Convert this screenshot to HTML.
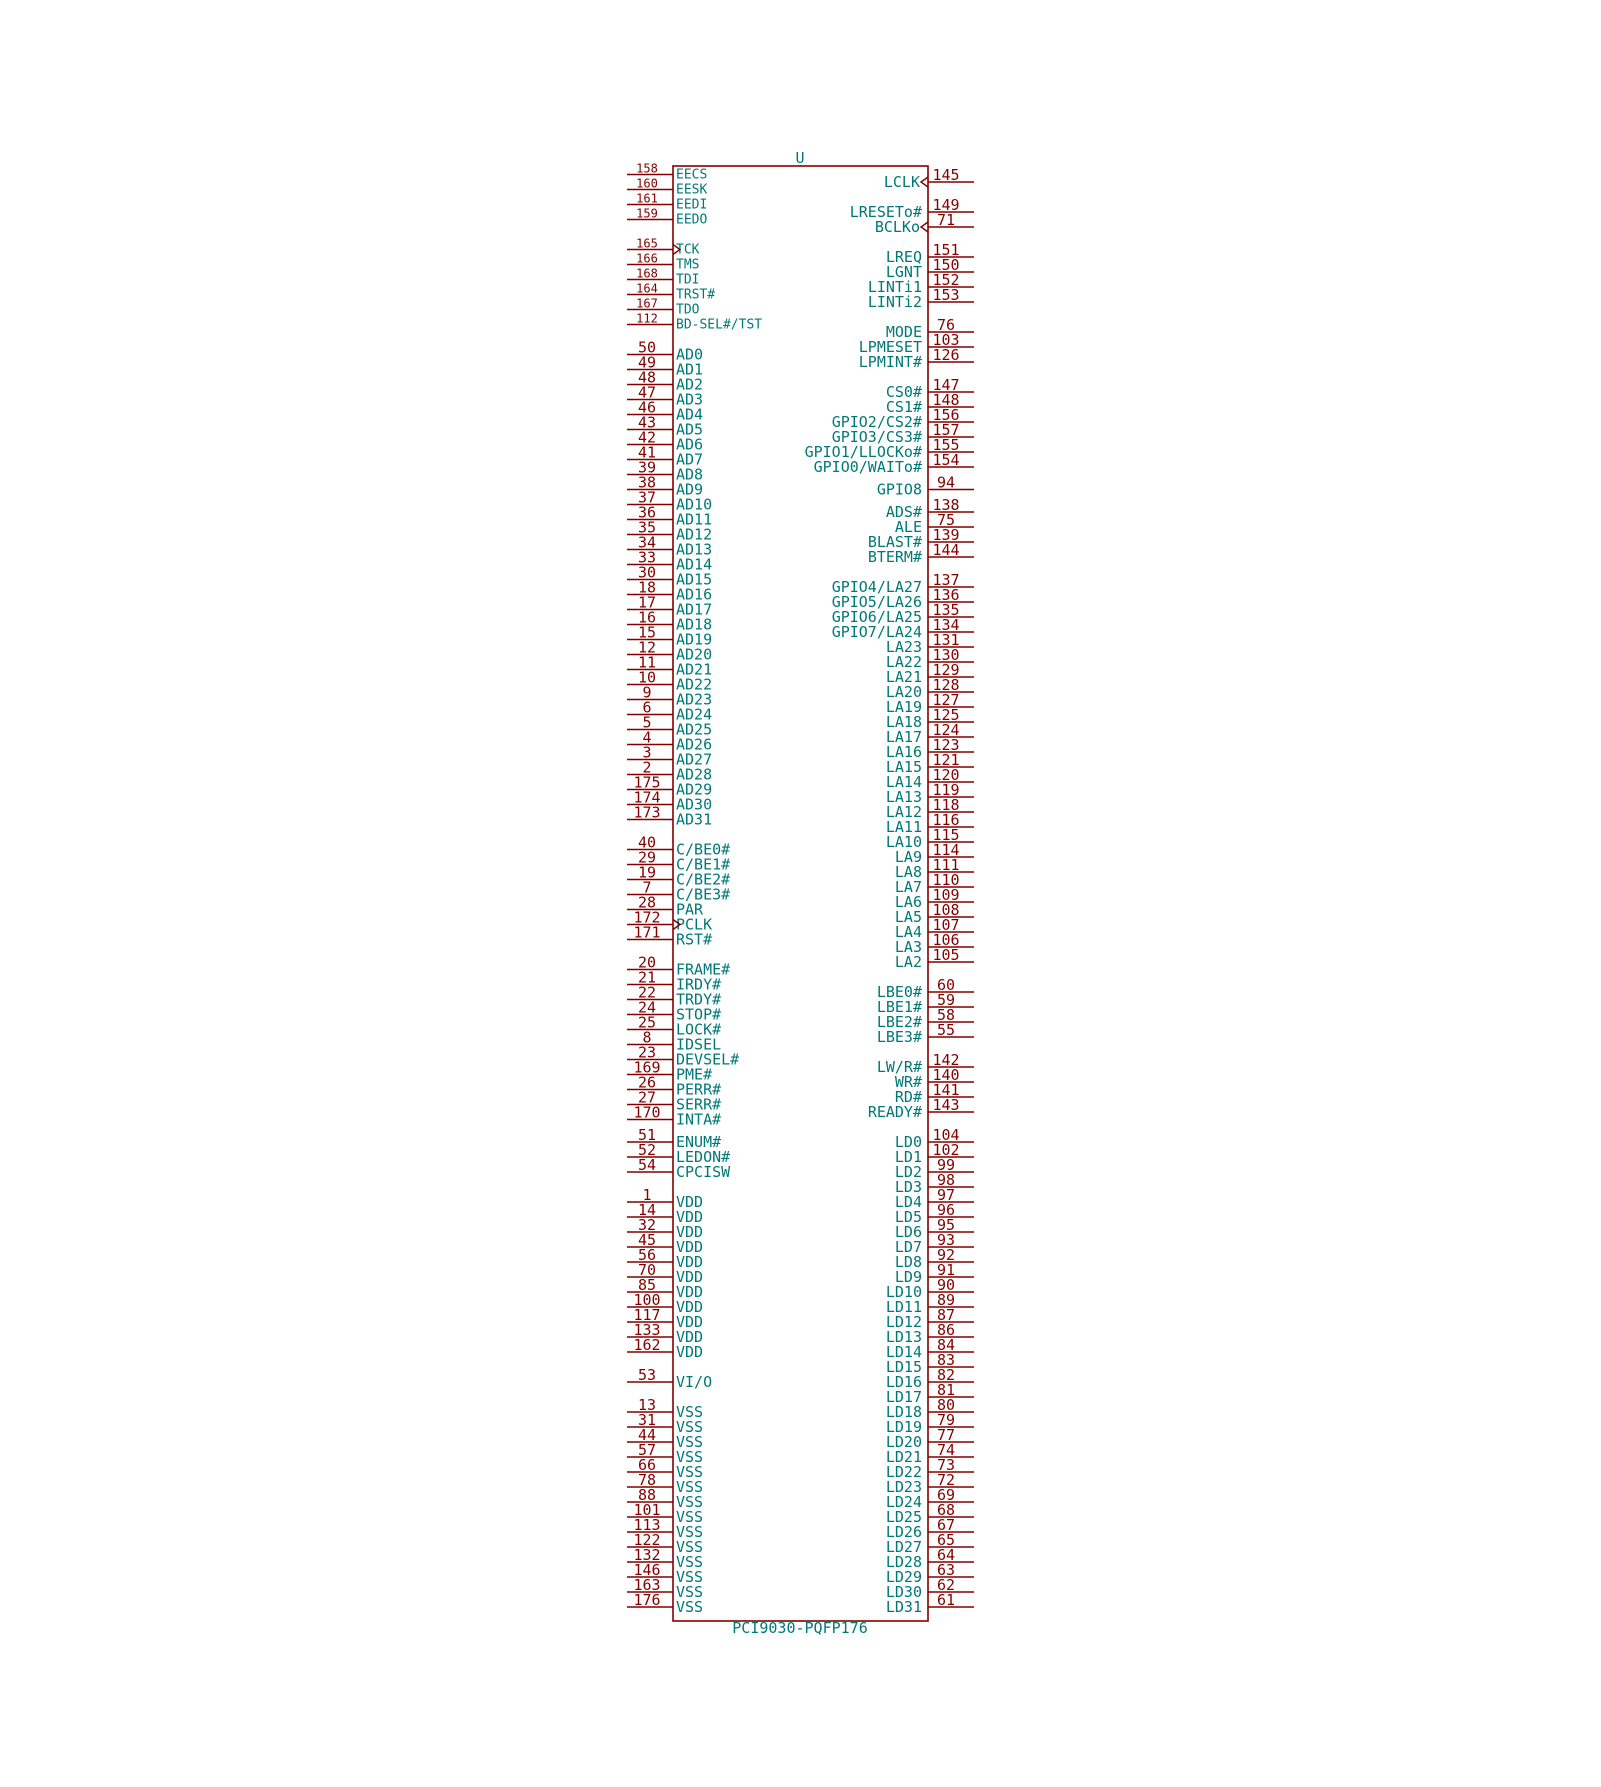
<!DOCTYPE html>
<html><head><meta charset="utf-8">
<style>
html,body{margin:0;padding:0;background:#fff;}
svg{display:block;}
text{font-family:"DejaVu Sans Mono","Liberation Mono",monospace;}
</style></head>
<body>
<svg id="sch" width="1601" height="1787" viewBox="0 0 1601 1787" xmlns="http://www.w3.org/2000/svg">
<rect x="673" y="166" width="255" height="1455" fill="none" stroke="#840000" stroke-width="1.6"/>
<text x="800" y="163" font-size="15" fill="#007878" text-anchor="middle">U</text>
<text x="800" y="1633" font-size="15" fill="#007878" text-anchor="middle">PCI9030-PQFP176</text>
</svg>
<script>
const leftNums=["158","160","161","159","165","166","168","164","167","112","50","49","48","47","46","43","42","41","39","38","37","36","35","34","33","30","18","17","16","15","12","11","10","9","6","5","4","3","2","175","174","173","40","29","19","7","28","172","171","20","21","22","24","25","8","23","169","26","27","170","51","52","54","1","14","32","45","56","70","85","100","117","133","162","53","13","31","44","57","66","78","88","101","113","122","132","146","163","176"];
const leftNames=["EECS","EESK","EEDI","EEDO","TCK","TMS","TDI","TRST#","TDO","BD-SEL#/TST"];
for(let i=0;i<32;i++)leftNames.push("AD"+i);
leftNames.push("C/BE0#","C/BE1#","C/BE2#","C/BE3#","PAR","PCLK","RST#","FRAME#","IRDY#","TRDY#","STOP#","LOCK#","IDSEL","DEVSEL#","PME#","PERR#","SERR#","INTA#","ENUM#","LEDON#","CPCISW");
for(let i=0;i<11;i++)leftNames.push("VDD");
leftNames.push("VI/O");
for(let i=0;i<14;i++)leftNames.push("VSS");
const leftRows=[0,1,2,3,5,6,7,8,9,10];
for(let i=0;i<32;i++)leftRows.push(12+i);
leftRows.push(45,46,47,48,49,50,51,53,54,55,56,57,58,59,60,61,62,63,64.5,65.5,66.5);
for(let i=0;i<11;i++)leftRows.push(68.5+i);
leftRows.push(80.5);
for(let i=0;i<14;i++)leftRows.push(82.5+i);

const rightNums=["145","149","71","151","150","152","153","76","103","126","147","148","156","157","155","154","94","138","75","139","144","137","136","135","134","131","130","129","128","127","125","124","123","121","120","119","118","116","115","114","111","110","109","108","107","106","105","60","59","58","55","142","140","141","143","104","102","99","98","97","96","95","93","92","91","90","89","87","86","84","83","82","81","80","79","77","74","73","72","69","68","67","65","64","63","62","61"];
const rightNames=["LCLK","LRESETo#","BCLKo","LREQ","LGNT","LINTi1","LINTi2","MODE","LPMESET","LPMINT#","CS0#","CS1#","GPIO2/CS2#","GPIO3/CS3#","GPIO1/LLOCKo#","GPIO0/WAITo#","GPIO8","ADS#","ALE","BLAST#","BTERM#","GPIO4/LA27","GPIO5/LA26","GPIO6/LA25","GPIO7/LA24"];
for(let i=23;i>=2;i--)rightNames.push("LA"+i);
rightNames.push("LBE0#","LBE1#","LBE2#","LBE3#","LW/R#","WR#","RD#","READY#");
for(let i=0;i<32;i++)rightNames.push("LD"+i);
const rightRows=[0,2,3,5,6,7,8,10,11,12,14,15,16,17,18,19,20.5,22,23,24,25];
for(let i=0;i<26;i++)rightRows.push(27+i);
rightRows.push(54,55,56,57,59,60,61,62);
for(let i=0;i<32;i++)rightRows.push(64+i);
const clockPins=["TCK","PCLK","LCLK","BCLKo"];

const NS="http://www.w3.org/2000/svg";
const svg=document.getElementById('sch');
const PIN="#840000",LAB="#007878";
function mk(tag,attrs,txt){const e=document.createElementNS(NS,tag);for(const k in attrs)e.setAttribute(k,attrs[k]);if(txt!==undefined)e.textContent=txt;svg.appendChild(e);return e;}
const yL=r=>174.5+r*15, yR=r=>182+r*15;
leftNames.forEach((n,i)=>{
  const y=yL(leftRows[i]); const small=i<10;
  const ln=mk('line',{x1:627,y1:y,x2:673,y2:y,stroke:PIN,'stroke-width':1.6});
  
  
  const t=mk('text',{x:676,y:y+(small?4:5),'font-size':small?13:15,fill:LAB},n);
  
  
  const p=mk('text',{x:647,y:y-2,'font-size':small?12:15,fill:PIN,'text-anchor':'middle'},leftNums[i]);
  
  
  if(clockPins.includes(n)){const c=mk('polyline',{points:`673,${y-5} 680,${y} 673,${y+5}`,fill:'none',stroke:PIN,'stroke-width':1.4});
    
    }
});
rightNames.forEach((n,i)=>{
  const y=yR(rightRows[i]);
  const ln=mk('line',{x1:928,y1:y,x2:974,y2:y,stroke:PIN,'stroke-width':1.6});
  
  
  const isClk=clockPins.includes(n);
  const t=mk('text',{x:isClk?920:922,y:y+5,'font-size':15,fill:LAB,'text-anchor':'end'},n);
  
  
  const p=mk('text',{x:946,y:y-2,'font-size':15,fill:PIN,'text-anchor':'middle'},rightNums[i]);
  
  
  if(isClk){const c=mk('polyline',{points:`928,${y-5} 921,${y} 928,${y+5}`,fill:'none',stroke:PIN,'stroke-width':1.4});
    
    }
});
</script>
</body></html>
